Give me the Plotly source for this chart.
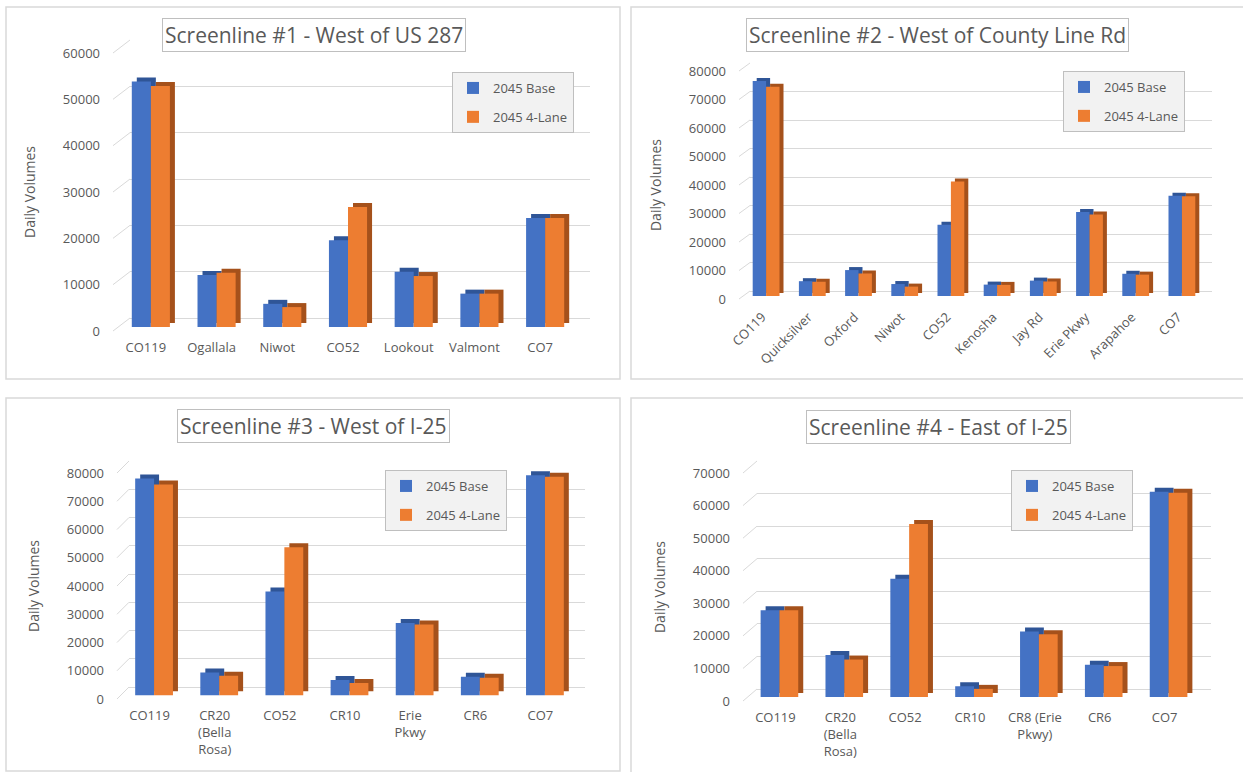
import plotly.graph_objects as go

W, H = 1243, 772
FONT = "Open Sans"
TXT = "#595959"
GRID = "#d9d9d9"
BLUE, ORANGE = "#4472c4", "#ed7d31"
BLUE_D, ORANGE_D = "#2f5597", "#a5511b"

# ---------------- data ----------------
cats1 = ["CO119", "Ogallala", "Niwot", "CO52", "Lookout", "Valmont", "CO7"]
labels1 = cats1
base1 = [53000, 11200, 5000, 18700, 11900, 7200, 23500]
lane1 = [52000, 11700, 4300, 25900, 11000, 7200, 23500]

cats2 = ["CO119", "Quicksilver", "Oxford", "Niwot", "CO52", "Kenosha", "Jay Rd",
         "Erie Pkwy", "Arapahoe", "CO7"]
labels2 = cats2
base2 = [75400, 5200, 9100, 4200, 25000, 4000, 5400, 29500, 7800, 35200]
lane2 = [73400, 5000, 7900, 3300, 40200, 3900, 5100, 28600, 7500, 35000]

cats3 = ["CO119", "CR20 (Bella Rosa)", "CO52", "CR10", "Erie Pkwy", "CR6", "CO7"]
labels3 = ["CO119", "CR20<br>(Bella<br>Rosa)", "CO52", "CR10", "Erie<br>Pkwy", "CR6", "CO7"]
base3 = [76800, 8100, 36800, 5500, 25700, 6600, 78000]
lane3 = [74700, 7000, 52500, 4400, 25100, 6300, 77400]

cats4 = ["CO119", "CR20 (Bella Rosa)", "CO52", "CR10", "CR8 (Erie Pkwy)", "CR6", "CO7"]
labels4 = ["CO119", "CR20<br>(Bella<br>Rosa)", "CO52", "CR10", "CR8 (Erie<br>Pkwy)", "CR6", "CO7"]
base4 = [26600, 12900, 36300, 3300, 20100, 9900, 63000]
lane4 = [26600, 11500, 53100, 2500, 19300, 9500, 62700]

titles = ["Screenline #1 - West of US 287", "Screenline #2 - West of County Line Rd",
          "Screenline #3 - West of I-25", "Screenline #4 - East of I-25"]
series_names = ["2045 Base", "2045 4-Lane"]
y_max = [60000, 80000, 80000, 70000]
y_step = 10000

# ---------------- layout geometry (pixels) ----------------
panels = [
    dict(cats=cats1, labels=labels1, base=base1, lane=lane1,
         fx=(113, 573), fz=331, ftop=53, back=(17, -13), bar=(5, -4), sh=(5, -4),
         box=(6, 7, 620, 379), tc=(314, 34.5), lg=(574, 72), angle=0),
    dict(cats=cats2, labels=labels2, base=base2, lane=lane2,
         fx=(739, 1201), fz=299, ftop=71, back=(11, -8), bar=(4, -3), sh=(4, -3),
         box=(631, 7, 1246, 379), tc=(938, 34.5), lg=(1185, 71), angle=-45),
    dict(cats=cats3, labels=labels3, base=base3, lane=lane3,
         fx=(117, 573), fz=699, ftop=473, back=(12, -12), bar=(4.5, -3.5), sh=(5, -4),
         box=(6, 398, 620, 771), tc=(313, 426), lg=(507, 470), angle=0),
    dict(cats=cats4, labels=labels4, base=base4, lane=lane4,
         fx=(743, 1197), fz=701, ftop=473, back=(14, -12), bar=(4, -4), sh=(5, -4),
         box=(631, 398, 1246, 775), tc=(938.5, 427), lg=(1133, 470), angle=0),
]


def xd(x0, x1):
    return [x0 / W, x1 / W]


def yd(ytop, ybot):
    return [1 - ybot / H, 1 - ytop / H]


fig = go.Figure()
layout = {}
shapes = []
annotations = []
BW = 0.29

for p, P in enumerate(panels):
    n = len(P["cats"])
    ymax = y_max[p]
    fx0, fx1 = P["fx"]
    fz, ftop = P["fz"], P["ftop"]
    scale = (fz - ftop) / ymax
    planes = {
        "back": P["back"],
        "shadow": (P["bar"][0] + P["sh"][0], P["bar"][1] + P["sh"][1]),
        "bar": P["bar"],
        "front": (0, 0),
    }
    ids = {}
    for k, name in enumerate(["back", "shadow", "bar", "front"]):
        idx = 4 * p + k + 1
        ids[name] = idx
        dx, dy = planes[name]
        xs = "" if idx == 1 else str(idx)
        xa = dict(domain=xd(fx0 + dx, fx1 + dx), anchor="y" + xs, type="category",
                  range=[-0.5, n - 0.5], showgrid=False, zeroline=False, showline=False,
                  showticklabels=False, ticks="", fixedrange=True, automargin=False)
        ya = dict(domain=yd(ftop + dy, fz + dy), anchor="x" + xs, range=[0, ymax],
                  dtick=y_step, tick0=0, showgrid=False, zeroline=False, showline=False,
                  showticklabels=False, ticks="", fixedrange=True, automargin=False)
        if name == "back":
            ya.update(showgrid=True, gridcolor=GRID, gridwidth=1,
                      zeroline=True, zerolinecolor=GRID, zerolinewidth=1)
        if name == "front":
            xa.update(showticklabels=True, tickvals=P["cats"], ticktext=P["labels"],
                      tickangle=P["angle"], tickfont=dict(family=FONT, size=13, color=TXT),
                      ticklabelstandoff=7)
            ya.update(showticklabels=True, tickformat="d",
                      tickfont=dict(family=FONT, size=13, color=TXT),
                      ticklabelstandoff=12,
                      title=dict(text="Daily Volumes", standoff=23,
                                 font=dict(family=FONT, size=14, color=TXT)))
        layout["xaxis" + xs] = xa
        layout["yaxis" + xs] = ya
        # invisible helper so every plane is drawn
        if name in ("back", "front"):
            fig.add_trace(go.Scatter(x=P["cats"], y=[0] * n, mode="markers",
                                     marker=dict(opacity=0), showlegend=False,
                                     hoverinfo="skip", xaxis="x" + xs, yaxis="y" + xs))

    # bars: shadow (depth) plane then front faces
    lg_name = "legend" if p == 0 else "legend%d" % (p + 1)
    for name, cols, show in (("shadow", (BLUE_D, ORANGE_D), False), ("bar", (BLUE, ORANGE), True)):
        idx = ids[name]
        xs = "" if idx == 1 else str(idx)
        for s, (vals, off) in enumerate(((P["base"], -BW), (P["lane"], 0.0))):
            fig.add_trace(go.Bar(x=P["cats"], y=vals, width=BW, offset=off,
                                 marker=dict(color=cols[s], line=dict(width=0)),
                                 name=series_names[s], showlegend=show,
                                 legendgroup="g%d_%d" % (p, s), legend=lg_name,
                                 xaxis="x" + xs, yaxis="y" + xs))

    # diagonal connectors from front axis to back-wall gridlines
    bdx, bdy = P["back"]
    v = 0
    while v <= ymax:
        yf = fz - v * scale
        shapes.append(dict(type="line", xref="paper", yref="paper",
                           x0=fx0 / W, y0=1 - yf / H, x1=(fx0 + bdx) / W, y1=1 - (yf + bdy) / H,
                           line=dict(color=GRID, width=1), layer="below"))
        v += y_step

    # panel frame
    bx0, by0, bx1, by1 = P["box"]
    shapes.append(dict(type="rect", xref="paper", yref="paper",
                       x0=bx0 / W, x1=bx1 / W, y0=1 - by1 / H, y1=1 - by0 / H,
                       line=dict(color=GRID, width=1.5), fillcolor="rgba(0,0,0,0)", layer="below"))

    # chart title in a box
    tcx, tcy = P["tc"]
    annotations.append(dict(text=titles[p], xref="paper", yref="paper", x=tcx / W, y=1 - tcy / H,
                            xanchor="center", yanchor="middle", showarrow=False,
                            font=dict(family=FONT, size=21, color=TXT),
                            bgcolor="white", bordercolor="#bfbfbf", borderwidth=1, borderpad=2))

    # legend
    lx, ly = P["lg"]
    layout[lg_name] = dict(x=lx / W, y=1 - ly / H, xanchor="right", yanchor="top",
                           bgcolor="#f2f2f2", bordercolor="#bfbfbf", borderwidth=1,
                           font=dict(family=FONT, size=13, color=TXT),
                           tracegroupgap=9, itemwidth=30, traceorder="grouped")

fig.update_layout(**layout)
fig.update_layout(width=W, height=H, margin=dict(l=0, r=0, t=0, b=0, pad=0, autoexpand=False),
                  paper_bgcolor="white", plot_bgcolor="rgba(0,0,0,0)",
                  shapes=shapes, annotations=annotations, showlegend=True,
                  font=dict(family=FONT, color=TXT))
fig.write_html("out.html", config={"displayModeBar": False},
               post_script="document.body.style.margin='0';document.body.style.overflow='hidden';")
